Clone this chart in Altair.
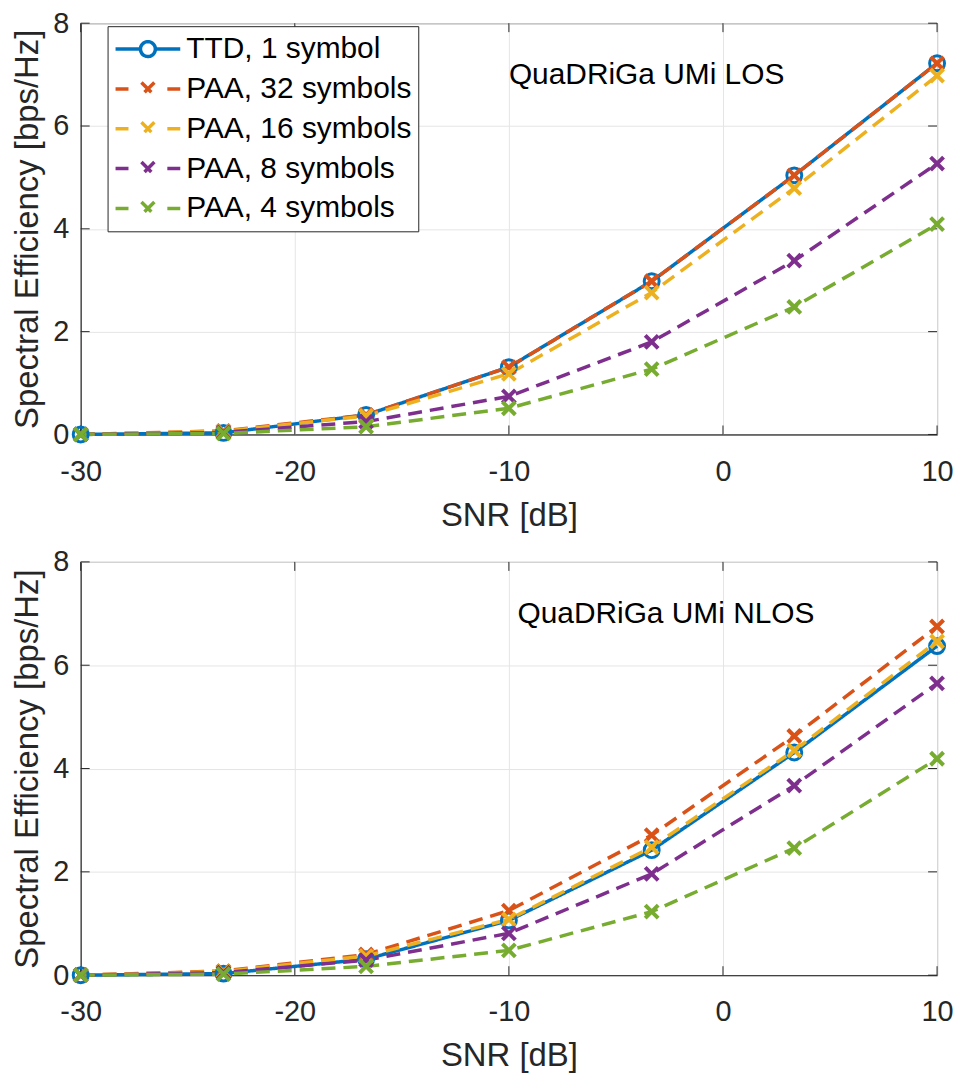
import altair as alt
import pandas as pd

# ---------------- data ----------------
snr = [-30, -23.33, -16.67, -10, -3.33, 3.33, 10]
series = ["TTD, 1 symbol", "PAA, 32 symbols", "PAA, 16 symbols", "PAA, 8 symbols", "PAA, 4 symbols"]
colors = ["#0072BD", "#D95319", "#EDB120", "#7E2F8E", "#77AC30"]

los_ttd = [0.0, 0.03, 0.38, 1.31, 2.98, 5.04, 7.22]
los_paa32 = [0.0, 0.07, 0.38, 1.31, 2.98, 5.04, 7.22]
los_paa16 = [0.0, 0.06, 0.36, 1.18, 2.76, 4.79, 6.98]
los_paa8 = [0.0, 0.04, 0.25, 0.74, 1.80, 3.38, 5.27]
los_paa4 = [0.0, 0.02, 0.15, 0.51, 1.27, 2.48, 4.09]

nlos_ttd = [0.0, 0.03, 0.31, 1.06, 2.42, 4.31, 6.37]
nlos_paa32 = [0.0, 0.08, 0.40, 1.25, 2.71, 4.63, 6.75]
nlos_paa16 = [0.0, 0.07, 0.37, 1.08, 2.48, 4.35, 6.46]
nlos_paa8 = [0.0, 0.05, 0.29, 0.81, 1.96, 3.67, 5.65]
nlos_paa4 = [0.0, 0.02, 0.17, 0.48, 1.23, 2.46, 4.19]

x_ticks = [-30, -20, -10, 0, 10]
y_ticks = [0, 2, 4, 6, 8]

labels = ["QuaDRiGa UMi LOS", "QuaDRiGa UMi NLOS"]
label_x = [-10.0, -9.6]
label_y = [7.0, 7.0]

FONT = "Liberation Sans"
AXC = "#262626"
CROSS = "M-1,-1L1,1M1,-1L-1,1"
LEG_TTD = ("M-1,0H-0.23M0.23,0H1"
           "M0.23,0A0.23,0.23,0,1,1,-0.23,0A0.23,0.23,0,1,1,0.23,0")
LEG_PAA = ("M-1,0H-0.6M0.6,0H1"
           "M-0.2,-0.2L0.2,0.2M0.2,-0.2L-0.2,0.2")
TICK = 9


def make_df(vals):
    rows = []
    for name, v in zip(series, vals):
        for xv, yv in zip(snr, v):
            rows.append({"snr": xv, "se": yv, "series": name})
    return pd.DataFrame(rows)


color_scale = alt.Scale(domain=series, range=colors)
dash_scale = alt.Scale(domain=series, range=[[1, 0], [14, 8], [14, 8], [14, 8], [14, 8]])


def xenc(field="snr"):
    return alt.X(f"{field}:Q", scale=alt.Scale(domain=[-30, 10], nice=False, zero=False),
                 axis=alt.Axis(values=x_ticks, title="SNR [dB]", labelExpr="'' + datum.value"))


def yenc(field="se"):
    return alt.Y(f"{field}:Q", scale=alt.Scale(domain=[0, 8], nice=False),
                 axis=alt.Axis(values=y_ticks, title="Spectral Efficiency [bps/Hz]",
                               labelExpr="'' + datum.value"))


def panel(vals, idx, height, show_legend):
    df = make_df(vals)
    base = alt.Chart(df).encode(x=xenc(), y=yenc(),
                                color=alt.Color("series:N", scale=color_scale, legend=None))
    lines = base.mark_line(strokeWidth=3.5).encode(
        strokeDash=alt.StrokeDash("series:N", scale=dash_scale, legend=None))
    ttd_pts = base.transform_filter(alt.datum.series == series[0]).mark_point(
        shape="circle", filled=False, size=225, strokeWidth=3, opacity=1)
    paa_pts = base.transform_filter(alt.datum.series != series[0]).mark_point(
        shape=CROSS, filled=False, size=170, strokeWidth=4, opacity=1)
    tdf = pd.DataFrame({"snr": [label_x[idx]], "se": [label_y[idx]], "t": [labels[idx]]})
    text = alt.Chart(tdf).mark_text(align="left", baseline="middle", fontSize=30,
                                    font=FONT, color="black").encode(
        x=xenc(), y=yenc(), text="t:N")

    # inward tick marks (MATLAB style) at the tick values
    xt = pd.DataFrame({"snr": x_ticks})
    yt = pd.DataFrame({"se": y_ticks})
    xt_bot = alt.Chart(xt).mark_rule(color=AXC, strokeWidth=1).encode(
        x=xenc(), y=alt.value(height), y2=alt.value(height - TICK))
    xt_top = alt.Chart(xt).mark_rule(color=AXC, strokeWidth=1).encode(
        x=xenc(), y=alt.value(0), y2=alt.value(TICK))
    yt_left = alt.Chart(yt).mark_rule(color=AXC, strokeWidth=1).encode(
        y=yenc(), x=alt.value(0), x2=alt.value(TICK))
    yt_right = alt.Chart(yt).mark_rule(color=AXC, strokeWidth=1).encode(
        y=yenc(), x=alt.value(860), x2=alt.value(860 - TICK))

    layers = []
    if show_legend:
        leg = alt.Legend(orient="none", legendX=27, legendY=3, title=None,
                         labelFontSize=30, labelFont=FONT, labelColor="black",
                         labelLimit=500, padding=6, strokeColor=AXC,
                         fillColor="white", clipHeight=34, rowPadding=6,
                         labelOffset=4, symbolSize=4225, symbolStrokeWidth=3.5,
                         cornerRadius=0, symbolFillColor="transparent")
        dummy = alt.Chart(df).transform_filter("false").mark_point(
            filled=False, size=4225, strokeWidth=3.5, opacity=1).encode(
            x=xenc(), y=yenc(),
            color=alt.Color("series:N", scale=color_scale, legend=leg),
            shape=alt.Shape("series:N", scale=alt.Scale(domain=series, range=[LEG_TTD] + [LEG_PAA] * 4),
                            legend=leg))
        layers.append(dummy)
    layers += [xt_bot, xt_top, yt_left, yt_right, lines, ttd_pts, paa_pts, text]
    return alt.layer(*layers).properties(width=860, height=height)


top = panel([los_ttd, los_paa32, los_paa16, los_paa8, los_paa4], 0, 413, True)
bottom = panel([nlos_ttd, nlos_paa32, nlos_paa16, nlos_paa8, nlos_paa4], 1, 415, False)

chart = alt.vconcat(top, bottom, spacing=14).resolve_scale(
    color="independent", shape="independent", strokeDash="independent"
).resolve_legend(color="independent", shape="independent", strokeDash="independent").properties(
    padding={"left": 3, "top": -2, "right": 0, "bottom": 0}
).configure(
    font=FONT
).configure_view(stroke=AXC, strokeWidth=1).configure_axis(
    labelFont=FONT, titleFont=FONT, labelFontSize=29, titleFontSize=33,
    labelColor=AXC, titleColor=AXC, domainColor=AXC,
    gridColor="#e5e5e5", gridWidth=1, ticks=False, tickSize=0,
    titleFontWeight="normal", labelFlush=False, labelOverlap=False
).configure_axisX(labelPadding=23, titlePadding=13).configure_axisY(
    labelPadding=12, titlePadding=8)

chart.save("out.html", embed_options={"renderer": "svg", "actions": False})
